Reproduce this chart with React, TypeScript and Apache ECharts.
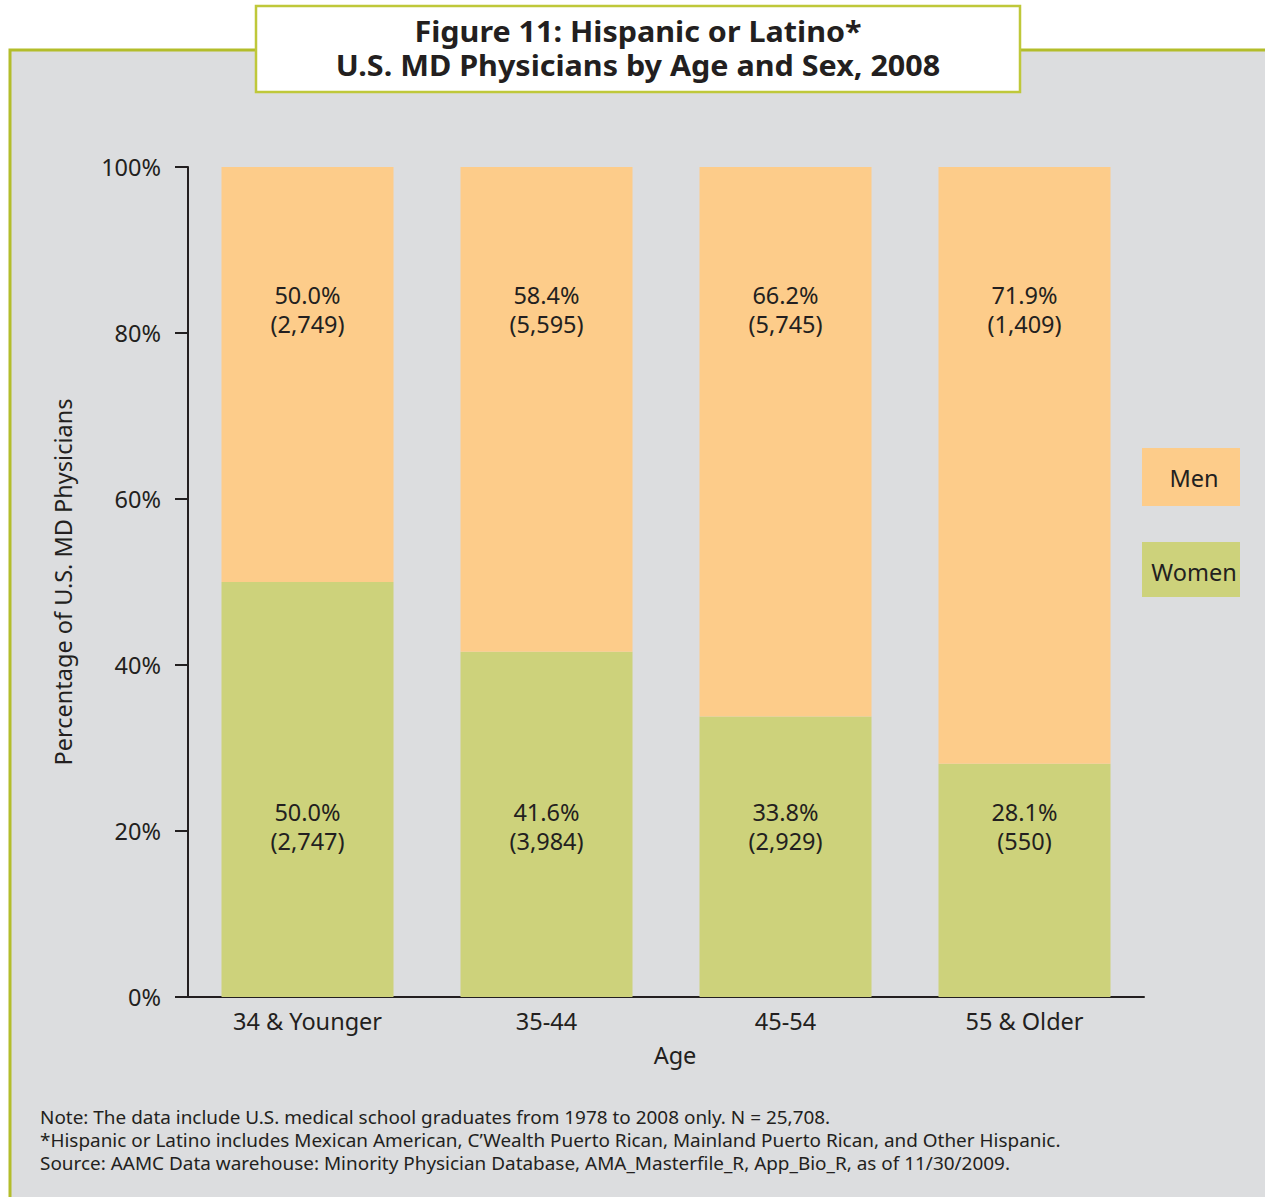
import React, { useEffect, useRef } from "react";
import * as echarts from "echarts";

const categories = ["34 & Younger", "35-44", "45-54", "55 & Older"];
const womenPct = [50.0, 41.6, 33.8, 28.1];
const menPct = [50.0, 58.4, 66.2, 71.9];
const womenCount = [2747, 3984, 2929, 550];
const menCount = [2749, 5595, 5745, 1409];
const yTicks = [0, 20, 40, 60, 80, 100];

const titleLines = ["Figure 11: Hispanic or Latino*", "U.S. MD Physicians by Age and Sex, 2008"];
const notes = [
  "Note: The data include U.S. medical school graduates from 1978 to 2008 only. N = 25,708.",
  "*Hispanic or Latino includes Mexican American, C\u2019Wealth Puerto Rican, Mainland Puerto Rican, and Other Hispanic.",
  "Source: AAMC Data warehouse: Minority Physician Database, AMA_Masterfile_R, App_Bio_R, as of 11/30/2009.",
];

const MEN = "#fdcc8a";
const WOMEN = "#cdd27b";
const GRAY = "#dcdddf";
const GREEN = "#b3bd2b";
const INK = "#231f20";
const FONT = "Noto Sans";
const FS = 23.5;

export default function App() {
  const ref = useRef<HTMLDivElement>(null);
  useEffect(() => {
    document.body.style.margin = "0";
    const chart = echarts.init(ref.current!, undefined, { renderer: "svg" });
    const fmt = (pcts: number[], counts: number[]) => (p: any) =>
      `${pcts[p.dataIndex].toFixed(1)}%\n(${counts[p.dataIndex].toLocaleString("en-US")})`;
    chart.setOption({
      animation: false,
      backgroundColor: "#ffffff",
      textStyle: { fontFamily: FONT },
      grid: { left: 188, right: 121, top: 167, bottom: 200 },
      xAxis: {
        type: "category",
        data: categories,
        name: "Age",
        nameLocation: "middle",
        nameGap: 46,
        nameTextStyle: { fontSize: FS, color: INK, fontFamily: FONT, padding: [0, 0, 0, 18] },
        axisLine: { show: true, lineStyle: { color: INK, width: 2 } },
        axisTick: { show: false },
        axisLabel: { fontSize: FS, color: INK, margin: 12, fontFamily: FONT },
      },
      yAxis: {
        type: "value",
        min: yTicks[0],
        max: yTicks[yTicks.length - 1],
        interval: 20,
        name: "Percentage of U.S. MD Physicians",
        nameLocation: "middle",
        nameGap: 113,
        nameTextStyle: { fontSize: 23.5, color: INK, fontFamily: FONT },
        axisLine: { show: true, lineStyle: { color: INK, width: 2 } },
        axisTick: { show: true, length: 13, lineStyle: { color: INK, width: 2 } },
        splitLine: { show: false },
        axisLabel: { fontSize: FS, color: INK, margin: 27, formatter: "{value}%", fontFamily: FONT },
      },
      series: [
        {
          name: "Women",
          type: "bar",
          stack: "total",
          barWidth: 172,
          data: womenPct,
          itemStyle: { color: WOMEN },
          label: {
            show: true,
            position: "insideBottom",
            distance: 142,
            formatter: fmt(womenPct, womenCount),
            fontSize: FS,
            lineHeight: 29,
            color: INK,
            fontFamily: FONT,
          },
        },
        {
          name: "Men",
          type: "bar",
          stack: "total",
          barWidth: 172,
          data: menPct,
          itemStyle: { color: MEN },
          label: {
            show: true,
            position: "insideTop",
            distance: 113,
            formatter: fmt(menPct, menCount),
            fontSize: FS,
            lineHeight: 29,
            color: INK,
            fontFamily: FONT,
          },
        },
      ],
      graphic: [
        {
          type: "rect",
          z: -10,
          shape: { x: 10, y: 50, width: 1270, height: 1200 },
          style: { fill: GRAY, stroke: GREEN, lineWidth: 3 },
        },
        {
          type: "rect",
          z: -5,
          shape: { x: 256, y: 6, width: 764, height: 86 },
          style: { fill: "#ffffff", stroke: "#bfc83a", lineWidth: 2.5 },
        },
        ...titleLines.map((t, i) => ({
          type: "text",
          z: 10,
          x: 638,
          y: 31 + i * 34,
          scaleX: 1.09,
          style: {
            text: t,
            fontSize: 28,
            fontWeight: "bold",
            fontFamily: FONT,
            fill: INK,
            align: "center",
            verticalAlign: "middle",
          },
        })),
        {
          type: "rect",
          z: 5,
          shape: { x: 1142, y: 448, width: 98, height: 58 },
          style: { fill: MEN },
        },
        {
          type: "text",
          z: 10,
          x: 1194,
          y: 478,
          style: { text: "Men", fontSize: FS, fontFamily: FONT, fill: INK, align: "center", verticalAlign: "middle" },
        },
        {
          type: "rect",
          z: 5,
          shape: { x: 1142, y: 542, width: 98, height: 55 },
          style: { fill: WOMEN },
        },
        {
          type: "text",
          z: 10,
          x: 1194,
          y: 572,
          style: { text: "Women", fontSize: FS, fontFamily: FONT, fill: INK, align: "center", verticalAlign: "middle" },
        },
        ...notes.map((t, i) => ({
          type: "text",
          z: 10,
          x: 40,
          y: 1117 + i * 23,
          scaleX: 1.035,
          style: { text: t, fontSize: 18.3, fontFamily: FONT, fill: INK, align: "left", verticalAlign: "middle" },
        })),
      ],
    });
    return () => chart.dispose();
  }, []);
  return <div ref={ref} style={{ width: 1265, height: 1197 }} />;
}
